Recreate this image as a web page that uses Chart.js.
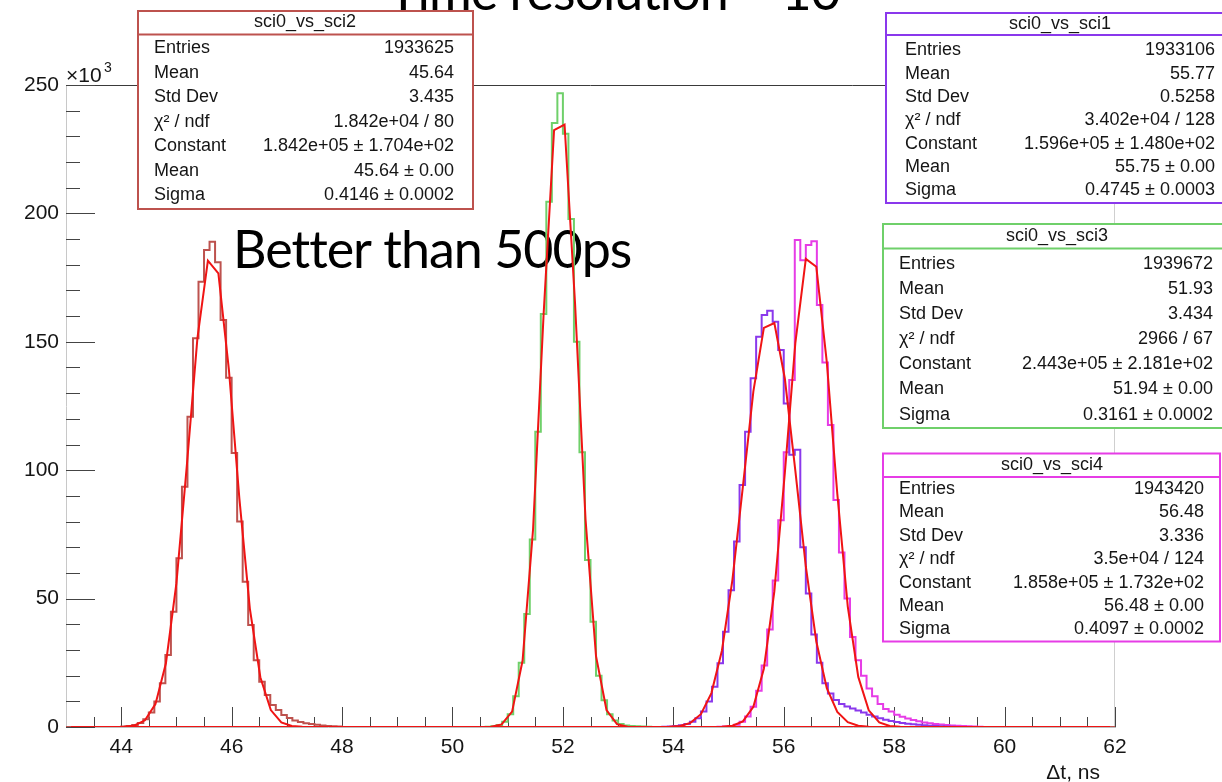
<!DOCTYPE html>
<html>
<head>
<meta charset="utf-8">
<script src="https://cdn.jsdelivr.net/npm/chart.js@4.4.1/dist/chart.umd.min.js"></script>
<style>
  html, body { margin: 0; padding: 0; background: #fff; }
  #wrap { width: 1222px; height: 782px; }
</style>
</head>
<body>
<div id="wrap"><canvas id="c" width="1222" height="782"></canvas></div>
<script>
// Δt between sci0 and the other counters, 0.1 ns bins, counts in 10^3
const xMin = 43, xMax = 62, binWidth = 0.1;
const xTicks = [44, 46, 48, 50, 52, 54, 56, 58, 60, 62];
const yTicks = [0, 50, 100, 150, 200, 250];

const sci2Start = 44.0;
const sci2Counts = [0.2, 0.4, 0.8, 1.6, 3.0, 5.6, 9.9, 17.0, 28.0, 44.9,
  65.7, 93.6, 120.8, 151.4, 173.4, 185.7, 189.0, 181.0, 158.5, 136.0,
  106.7, 80.0, 56.6, 39.7, 26.0, 17.6, 12.5, 8.6, 6.6, 4.7,
  3.5, 2.5, 1.9, 1.5, 1.2, 0.9, 0.6, 0.4, 0.3, 0.2];

const sci3Start = 50.6;
const sci3Counts = [0.1, 0.3, 0.8, 2.0, 5.0, 12.0, 25.0, 44.0, 73.0, 115.0,
  160.8, 204.5, 235.2, 246.8, 231.0, 197.8, 150.0, 107.0, 65.0, 41.0,
  20.0, 10.4, 5.0, 2.5, 1.2, 0.6, 0.4, 0.3, 0.2, 0.1];

const sci1Start = 53.8;
const sci1Counts = [0.1, 0.2, 0.4, 0.7, 1.2, 2.0, 3.4, 6.0, 9.9, 15.7,
  24.8, 37.1, 53.3, 72.2, 94.2, 115.0, 135.8, 152.0, 160.4, 162.1,
  157.8, 146.8, 126.0, 106.0, 108.0, 70.0, 52.0, 36.0, 25.0, 17.0,
  13.0, 10.5, 9.0, 8.0, 7.2, 6.4, 5.6, 4.8, 4.1, 3.4,
  2.8, 2.3, 1.9, 1.6, 1.3, 1.1, 0.9, 0.7, 0.5, 0.4,
  0.3, 0.2, 0.1];

const sci4Start = 54.8;
const sci4Counts = [0.1, 0.2, 0.4, 0.9, 2.0, 4.1, 7.9, 14.1, 23.9, 38.0,
  57.0, 80.5, 107.0, 135.1, 189.6, 181.8, 187.7, 189.2, 164.3, 141.9,
  117.6, 88.4, 68.0, 50.0, 35.0, 26.0, 20.0, 15.0, 12.0, 9.0,
  7.0, 6.0, 4.8, 4.0, 3.3, 2.7, 2.2, 1.8, 1.5, 1.2,
  1.0, 0.8, 0.6, 0.5, 0.4, 0.3, 0.2, 0.1];

// gaus fit curves, sampled every 0.19 ns starting at 43.1 (100 points)
const fitX0 = 43.1, fitStep = 0.19, fitN = 100;
const sci2FitFirst = 5;
const sci2Fit = [0.1, 0.6, 2.6, 8.9, 24.8, 56.0, 102.2, 151.3, 181.6, 176.6,
  139.3, 89.0, 46.1, 19.4, 6.6, 1.8, 0.4, 0.1];
const sci3FitFirst = 40;
const sci3Fit = [0.1, 1.0, 6.0, 25.9, 77.1, 160.4, 232.4, 234.6, 165.0, 80.9,
  27.6, 6.6, 1.1, 0.1];
const sci1FitFirst = 56;
const sci1Fit = [0.0, 0.1, 0.4, 1.6, 5.0, 13.2, 29.7, 57.2, 93.6, 130.7,
  155.4, 157.3, 135.7, 99.8, 62.5, 33.3, 15.1, 5.9, 1.9, 0.5, 0.1, 0.0];
const sci4FitFirst = 62;
const sci4Fit = [0.1, 0.5, 2.2, 7.9, 22.7, 52.8, 98.9, 149.5, 182.3, 179.2,
  142.1, 90.9, 46.9, 19.5, 6.5, 1.8, 0.4, 0.1];

// stat box contents
const sci2Stats = [['Entries', '1933625'], ['Mean', '45.64'], ['Std Dev', '3.435'],
  ['χ² / ndf', '1.842e+04 / 80'], ['Constant', '1.842e+05 ± 1.704e+02'],
  ['Mean', '45.64 ± 0.00'], ['Sigma', '0.4146 ± 0.0002']];
const sci1Stats = [['Entries', '1933106'], ['Mean', '55.77'], ['Std Dev', '0.5258'],
  ['χ² / ndf', '3.402e+04 / 128'], ['Constant', '1.596e+05 ± 1.480e+02'],
  ['Mean', '55.75 ± 0.00'], ['Sigma', '0.4745 ± 0.0003']];
const sci3Stats = [['Entries', '1939672'], ['Mean', '51.93'], ['Std Dev', '3.434'],
  ['χ² / ndf', '2966 / 67'], ['Constant', '2.443e+05 ± 2.181e+02'],
  ['Mean', '51.94 ± 0.00'], ['Sigma', '0.3161 ± 0.0002']];
const sci4Stats = [['Entries', '1943420'], ['Mean', '56.48'], ['Std Dev', '3.336'],
  ['χ² / ndf', '3.5e+04 / 124'], ['Constant', '1.858e+05 ± 1.732e+02'],
  ['Mean', '56.48 ± 0.00'], ['Sigma', '0.4097 ± 0.0002']];

const colSci2 = '#bd524e', colSci1 = '#8a38ec', colSci3 = '#6fd06a', colSci4 = '#e63ce6';
const colFit = '#f01414';

// step histogram over the full axis range, zero outside the filled bins
function histPoints(start, counts) {
  const n = Math.round((xMax - xMin) / binWidth);
  const first = Math.round((start - xMin) / binWidth);
  const pts = [];
  for (let i = 0; i < n; i++) {
    const j = i - first;
    pts.push({ x: +(xMin + i * binWidth).toFixed(2), y: (j >= 0 && j < counts.length) ? counts[j] : 0 });
  }
  pts.push({ x: xMax, y: pts[pts.length - 1].y });
  return pts;
}

function fitPoints(first, vals) {
  const pts = [];
  for (let k = 0; k < fitN; k++) {
    const j = k - first;
    pts.push({ x: +(fitX0 + k * fitStep).toFixed(3), y: (j >= 0 && j < vals.length) ? vals[j] : 0 });
  }
  return pts;
}

// 'before': each bin value holds from its low edge up to the next edge
function histSet(label, start, counts, color) {
  return { label, data: histPoints(start, counts), borderColor: color, borderWidth: 2,
    stepped: 'before', pointRadius: 0, fill: false, order: 2 };
}
function fitSet(label, first, vals) {
  return { label, data: fitPoints(first, vals), borderColor: colFit, borderWidth: 2,
    tension: 0, pointRadius: 0, fill: false, order: 1 };
}

function drawStats(ctx, b, name, rows, color) {
  ctx.save();
  ctx.fillStyle = '#fff';
  ctx.fillRect(b.x, b.y, b.w, b.h);
  ctx.strokeStyle = color;
  ctx.lineWidth = 2;
  ctx.strokeRect(b.x, b.y, b.w, b.h);
  ctx.beginPath();
  ctx.moveTo(b.x, b.sep);
  ctx.lineTo(b.x + b.w, b.sep);
  ctx.stroke();
  ctx.fillStyle = '#151515';
  ctx.font = '18px "Liberation Sans"';
  ctx.textBaseline = 'middle';
  ctx.textAlign = 'center';
  ctx.fillText(name, b.titleX, b.titleY);
  rows.forEach(([label, value], i) => {
    const y = b.row0 + i * b.dy;
    ctx.textAlign = 'left';
    ctx.fillText(label, b.labelX, y);
    ctx.textAlign = 'right';
    ctx.fillText(value, b.valueX, y);
  });
  ctx.restore();
}

const rootFrame = {
  id: 'rootFrame',
  beforeDatasetsDraw(chart) {
    const ctx = chart.ctx;
    const { left, right, top, bottom } = chart.chartArea;
    const xs = chart.scales.x, ys = chart.scales.y;
    ctx.save();
    // frame: dark top, light right side
    ctx.lineWidth = 1;
    ctx.strokeStyle = '#3a3a3a';
    ctx.beginPath(); ctx.moveTo(left, top + 0.5); ctx.lineTo(right, top + 0.5); ctx.stroke();
    ctx.strokeStyle = '#cfcfcf';
    ctx.beginPath(); ctx.moveTo(right - 0.5, top); ctx.lineTo(right - 0.5, bottom); ctx.stroke();
    // ticks inside the frame
    ctx.strokeStyle = '#444';
    for (let v = 0; v <= 250; v += 10) {
      const py = Math.round(ys.getPixelForValue(v)) + 0.5;
      const len = v % 50 === 0 ? 29 : 14;
      ctx.beginPath(); ctx.moveTo(left, py); ctx.lineTo(left + len, py); ctx.stroke();
    }
    for (let i = 87; i <= 124; i++) {
      const v = i / 2;
      const px = Math.round(xs.getPixelForValue(v)) + 0.5;
      const len = v % 2 === 0 ? 20 : 10;
      ctx.beginPath(); ctx.moveTo(px, bottom); ctx.lineTo(px, bottom - len); ctx.stroke();
    }
    // annotation
    ctx.fillStyle = '#000';
    ctx.font = '52px Lato';
    ctx.letterSpacing = '-1px';
    ctx.textAlign = 'left';
    ctx.textBaseline = 'alphabetic';
    ctx.fillText('Better than 500ps', 233, 268);
    ctx.restore();
  },
  afterDraw(chart) {
    const ctx = chart.ctx;
    ctx.save();
    ctx.fillStyle = '#000';
    ctx.font = '52px Lato';
    ctx.letterSpacing = '-1px';
    ctx.textAlign = 'left';
    ctx.textBaseline = 'alphabetic';
    ctx.fillText('Time resolution ~ 10', 388, 10);
    ctx.letterSpacing = '0px';
    ctx.fillStyle = '#151515';
    ctx.font = '21px "Liberation Sans"';
    ctx.fillText('×10', 66, 82);
    ctx.font = '14px "Liberation Sans"';
    ctx.fillText('3', 104, 72);
    ctx.font = '21px "Liberation Sans"';
    ctx.textAlign = 'right';
    ctx.fillText('Δt, ns', 1100, 779);
    ctx.restore();

    drawStats(ctx, { x: 138, y: 11, w: 335, h: 198, sep: 34.5, titleX: 305, titleY: 22.5,
      row0: 48.5, dy: 24.5, labelX: 154, valueX: 454 }, 'sci0_vs_sci2', sci2Stats, colSci2);
    drawStats(ctx, { x: 886, y: 13, w: 348, h: 190, sep: 35, titleX: 1060, titleY: 24.5,
      row0: 50.5, dy: 23.3, labelX: 905, valueX: 1215 }, 'sci0_vs_sci1', sci1Stats, colSci1);
    drawStats(ctx, { x: 883, y: 224, w: 347, h: 204, sep: 248.5, titleX: 1057, titleY: 236.5,
      row0: 264, dy: 25.1, labelX: 899, valueX: 1213 }, 'sci0_vs_sci3', sci3Stats, colSci3);
    drawStats(ctx, { x: 883, y: 453.5, w: 337, h: 188, sep: 477, titleX: 1052, titleY: 465,
      row0: 489, dy: 23.4, labelX: 899, valueX: 1204 }, 'sci0_vs_sci4', sci4Stats, colSci4);
  }
};

const axisFont = { family: 'Liberation Sans', size: 21 };

new Chart(document.getElementById('c'), {
  type: 'line',
  data: {
    datasets: [
      histSet('sci0_vs_sci2', sci2Start, sci2Counts, colSci2),
      histSet('sci0_vs_sci1', sci1Start, sci1Counts, colSci1),
      histSet('sci0_vs_sci3', sci3Start, sci3Counts, colSci3),
      histSet('sci0_vs_sci4', sci4Start, sci4Counts, colSci4),
      fitSet('fit sci2', sci2FitFirst, sci2Fit),
      fitSet('fit sci1', sci1FitFirst, sci1Fit),
      fitSet('fit sci3', sci3FitFirst, sci3Fit),
      fitSet('fit sci4', sci4FitFirst, sci4Fit)
    ]
  },
  options: {
    responsive: false,
    animation: false,
    devicePixelRatio: 1,
    layout: { padding: { top: 85, right: 107, left: 0, bottom: 0 } },
    plugins: { legend: { display: false }, tooltip: { enabled: false } },
    scales: {
      x: {
        type: 'linear', min: xMin, max: xMax,
        afterBuildTicks: s => { s.ticks = xTicks.map(v => ({ value: v })); },
        afterFit: s => { s.height = 55; },
        grid: { display: false, drawTicks: false },
        border: { display: true, color: '#bdbdbd', width: 1 },
        ticks: { font: axisFont, color: '#151515', padding: 8, maxRotation: 0, autoSkip: false }
      },
      y: {
        type: 'linear', min: 0, max: 250,
        afterBuildTicks: s => { s.ticks = yTicks.map(v => ({ value: v })); },
        afterFit: s => { s.width = 66; },
        grid: { display: false, drawTicks: false },
        border: { display: true, color: '#c8c8c8', width: 1 },
        ticks: { font: axisFont, color: '#151515', padding: 7 }
      }
    }
  },
  plugins: [rootFrame]
});
</script>
</body>
</html>
